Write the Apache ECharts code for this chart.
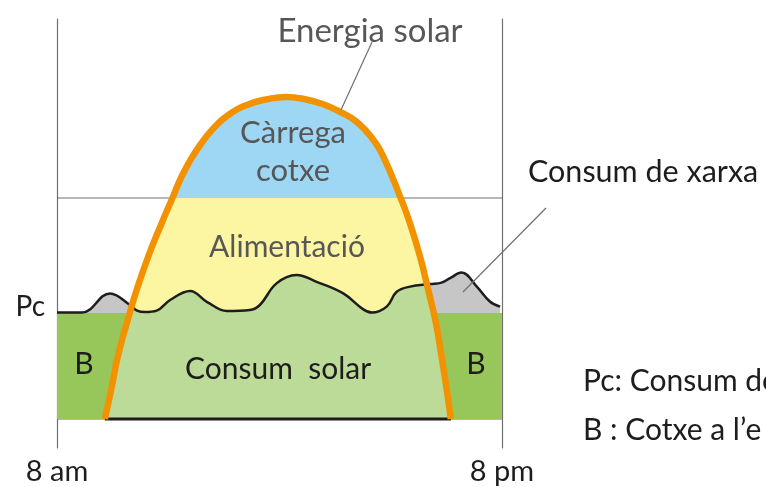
<!DOCTYPE html>
<html>
<head>
<meta charset="utf-8">
<script src="https://cdn.jsdelivr.net/npm/echarts@6/dist/echarts.min.js"></script>
<style>
  html, body { margin: 0; padding: 0; background: #fff; }
  #main { width: 766px; height: 487px; }
</style>
</head>
<body>
<div id="main"></div>
<script>
// x: hours after 8 am (0 = 8 am, 12 = 8 pm), y: power (arbitrary units)
const hourTicks = [0, 12];
const hourLabels = ['8 am', '8 pm'];

const solarHours = [1.29, 1.46, 1.64, 1.88, 2.15, 2.46, 2.82, 3.11, 3.34, 3.57, 3.86, 4.22, 4.62, 5.12, 5.64, 6.18,
                    6.71, 7.18, 7.63, 8.08, 8.53, 8.80, 9.27, 9.52, 9.79, 10.01, 10.22, 10.37, 10.51, 10.62];
const solarPower = [0, 7.3, 15.6, 23.9, 32.3, 40.6, 48.9, 55.2, 60.2, 64.3, 68.5, 72.7, 76.0, 78.5, 79.9, 80.5,
                    79.9, 78.7, 76.8, 74.3, 69.8, 65.6, 55.2, 48.9, 40.6, 32.3, 23.9, 15.6, 7.3, 0];

const demandHours = [0, 0.67, 1.43, 1.97, 2.16, 2.37, 2.69, 3.05, 3.59, 4.04, 4.58, 5.20, 5.47, 5.92,
                     6.46, 7.00, 7.72, 8.26, 8.49, 8.89, 9.16, 9.52, 10.06, 10.37, 10.60, 10.91,
                     11.32, 11.68, 11.95];
const demandPower = [26.6, 26.6, 31.4, 28.5, 27.1, 26.75, 27.1, 29.75, 32.0, 29.3, 27.0, 27.25, 28.5, 33.9,
                     36.0, 34.3, 31.4, 27.4, 26.6, 28.1, 31.8, 33.1, 33.75, 34.1, 35.2, 36.6,
                     33.1, 29.3, 28.1];

const pcLevel = 26.5;      // Pc
const carLevel = 55.25;    // above this the car is charged
const crossLeft = [2.02, 28.2];   // where solar meets demand
const crossRight = [9.98, 33.6];

const pairs = (xs, ys) => xs.map((x, i) => [x, ys[i]]);
const solar = pairs(solarHours, solarPower);
const demand = pairs(demandHours, demandPower);
const greenEdge = [
  ...solar.filter(p => p[0] < crossLeft[0]),
  crossLeft,
  ...demand.filter(p => p[0] > crossLeft[0] && p[0] < crossRight[0]),
  crossRight,
  ...solar.filter(p => p[0] > crossRight[0])
];

const FONT = 'Lato, "Open Sans", sans-serif';
const GREY = '#707070';
const DARK = '#1d1d1b';
const TXT = '#575757';

const chart = echarts.init(document.getElementById('main'));

const label = (text, x, y, size, color, align) => ({
  type: 'text', x: x, y: y, z: 100,
  style: {
    text: text, fill: color, font: size + 'px ' + FONT,
    align: align || 'center', verticalAlign: 'middle',
    textAlign: align || 'center', textVerticalAlign: 'middle'
  }
});
const leader = (x1, y1, x2, y2) => ({
  type: 'line', z: 100,
  shape: {x1: x1, y1: y1, x2: x2, y2: y2},
  style: {stroke: GREY, lineWidth: 1.2}
});

chart.setOption({
  animation: false,
  grid: {left: 57, right: 264, top: 19, bottom: 39},
  xAxis: {
    type: 'value', min: 0, max: 12,
    axisLine: {show: false}, axisTick: {show: false}, splitLine: {show: false},
    axisLabel: {
      customValues: hourTicks, showMinLabel: true, showMaxLabel: true,
      formatter: v => hourLabels[hourTicks.indexOf(v)],
      fontSize: 29, fontFamily: FONT, color: DARK, margin: 9
    }
  },
  yAxis: [{
    type: 'value', min: -7.25, max: 100,
    axisLine: {show: true, lineStyle: {color: GREY, width: 1.2}},
    axisTick: {show: false}, splitLine: {show: false}, axisLabel: {show: false}
  }, {
    type: 'value', min: -7.25, max: 100, position: 'right',
    axisLine: {show: true, lineStyle: {color: GREY, width: 1.2}},
    axisTick: {show: false}, splitLine: {show: false}, axisLabel: {show: false}
  }],
  series: [
    {type: 'line', data: [[0, carLevel], [12, carLevel]], symbol: 'none', z: 1,
     lineStyle: {color: GREY, width: 1.2}},
    {type: 'line', data: [[0, 0], [12, 0]], symbol: 'none', z: 1,
     lineStyle: {color: GREY, width: 1.2}},
    {id: 'solarArea', type: 'line', data: solar, smooth: 0.5, symbol: 'none', z: 2,
     lineStyle: {width: 0, opacity: 0}, areaStyle: {color: '#fcf5a1', opacity: 1}},
    {type: 'line', data: demand, smooth: 0.4, symbol: 'none', z: 3,
     lineStyle: {width: 0, opacity: 0}, areaStyle: {color: '#c6c6c6', opacity: 1}},
    {type: 'line', data: [[0, pcLevel], [12, pcLevel]], symbol: 'none', z: 4,
     lineStyle: {width: 0, opacity: 0}, areaStyle: {color: '#97c65b', opacity: 1}},
    {type: 'line', data: greenEdge, smooth: 0.4, symbol: 'none', z: 5,
     lineStyle: {width: 0, opacity: 0}, areaStyle: {color: '#bddb98', opacity: 1}},
    {type: 'line', data: demand, smooth: 0.4, symbol: 'none', z: 6,
     lineStyle: {color: DARK, width: 2.5}},
    {type: 'line', data: [[solarHours[0], 0], [solarHours[solarHours.length - 1], 0]],
     symbol: 'none', z: 7, lineStyle: {color: DARK, width: 3}},
    {type: 'line', data: solar, smooth: 0.5, symbol: 'none', z: 8,
     lineStyle: {color: '#f39200', width: 6.5, cap: 'butt'}}
  ],
  graphic: [
    label('Energia solar', 370, 31, 33, TXT),
    leader(372, 42, 341, 110),
    label('Càrrega', 293, 133, 31, TXT),
    label('cotxe', 293, 171, 31, TXT),
    label('Alimentació', 287, 247, 30, TXT),
    label('Consum  solar', 278, 369, 30, DARK),
    label('B', 84, 364, 30, DARK),
    label('B', 476, 364, 30, DARK),
    label('Pc', 45, 307, 28, DARK, 'right'),
    label('Consum de xarxa', 528, 172, 30.5, DARK, 'left'),
    leader(546, 208, 463, 292),
    label('Pc: Consum de', 583, 381, 30, DARK, 'left'),
    label('B : Cotxe a l’e', 583, 430, 30, DARK, 'left')
  ]
});

// blue above the car-charging level, yellow below
const splitPx = chart.convertToPixel({yAxisIndex: 0}, carLevel);
const h = chart.getHeight();
chart.setOption({
  series: [{
    id: 'solarArea',
    areaStyle: {
      color: new echarts.graphic.LinearGradient(0, 0, 0, h, [
        {offset: 0, color: '#9dd7f3'},
        {offset: splitPx / h, color: '#9dd7f3'},
        {offset: splitPx / h, color: '#fcf5a1'},
        {offset: 1, color: '#fcf5a1'}
      ], true)
    }
  }]
});
</script>
</body>
</html>
